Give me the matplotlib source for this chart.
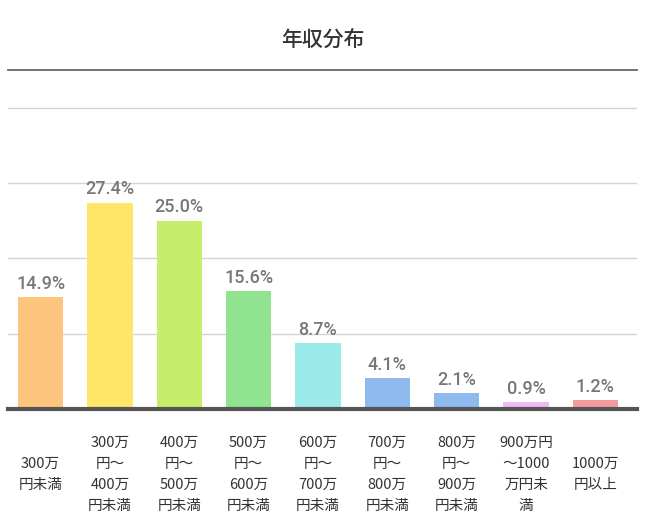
import matplotlib.pyplot as plt
import numpy as np

categories = ['300万\n円未満', '300万\n円～\n400万\n円未満', '400万\n円～\n500万\n円未満',
              '500万\n円～\n600万\n円未満', '600万\n円～\n700万\n円未満', '700万\n円～\n800万\n円未満',
              '800万\n円～\n900万\n円未満', '900万円\n～1000\n万円未\n満', '1000万\n円以上']
values = [14.9, 27.4, 25.0, 15.6, 8.7, 4.1, 2.1, 0.9, 1.2]
colors = ['#FDC47E', '#FEE768', '#C5EF6B', '#90E38F', '#9DEAEA',
          '#8FBAF0', '#8FBAF0', '#F5B7F5', '#F49C9C']

cjk = ['Noto Sans CJK JP', 'DejaVu Sans']

fig = plt.figure(figsize=(6.51, 5.31), dpi=100)
ax = fig.add_axes([0.0123, 0.2298, 0.9662, 0.6384])

x = np.arange(len(values))
bars = ax.bar(x, values, width=0.652, color=colors, zorder=3)

for xi, v in zip(x, values):
    ax.annotate(f'{v:.1f}%', (xi, v), xytext=(0, 3), textcoords='offset points',
                ha='center', va='bottom', fontsize=13, fontweight='medium',
                color='#777777', family=['Roboto', 'DejaVu Sans'], zorder=4)

ax.set_xlim(-0.47, 8.6)
ax.set_ylim(0, 45)
ax.set_yticks([10, 20, 30, 40])
ax.yaxis.grid(True, color='#d4d4d4', linewidth=1)
ax.tick_params(axis='y', left=False, labelleft=False)

ax.set_xticks(x)
ax.set_xticklabels(categories, family=cjk, fontsize=10.5, color='#333333',
                   va='center', linespacing=1.65)
ax.tick_params(axis='x', length=0, pad=47)

for s in ['left', 'right']:
    ax.spines[s].set_visible(False)
ax.spines['top'].set_color('#666666')
ax.spines['top'].set_linewidth(1.3)
ax.spines['bottom'].set_color('#555555')
ax.spines['bottom'].set_linewidth(3)
ax.spines['bottom'].set_zorder(5)

fig.text(0.4954, 0.925, '年収分布', ha='center', va='center', fontsize=15,
         fontweight='medium', color='#333333', family=cjk)

fig.savefig('out.png', dpi=100)
